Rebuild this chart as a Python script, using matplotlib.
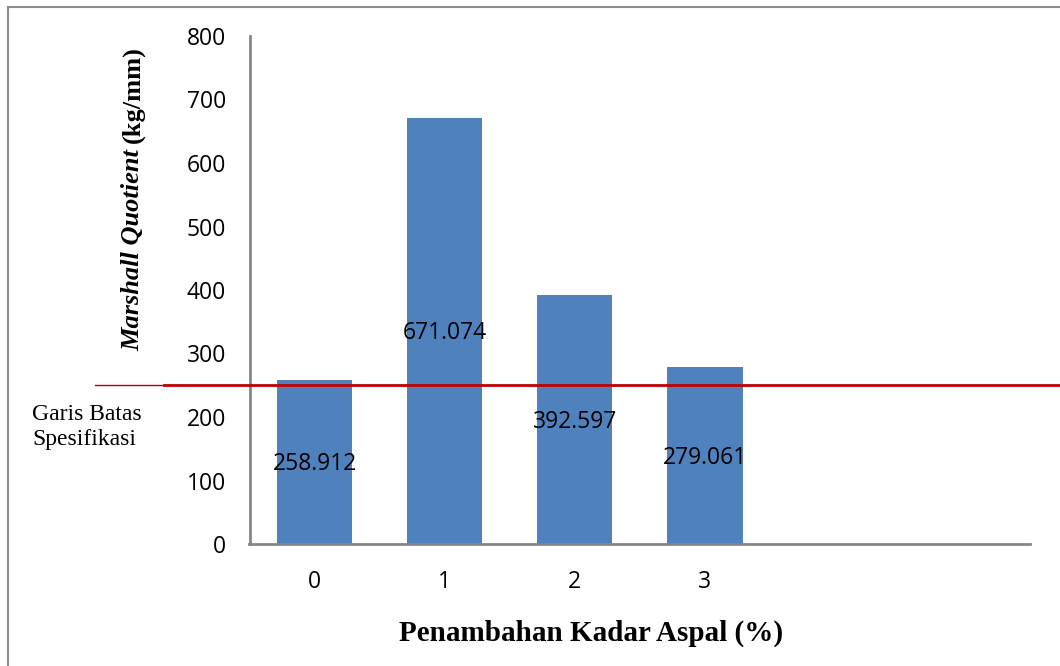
import matplotlib.pyplot as plt
import matplotlib.patches as patches

# data
kadar = [0, 1, 2, 3]
mq = [258.912, 671.074, 392.597, 279.061]
labels = ['258.912', '671.074', '392.597', '279.061']
batas = 250
n_slots = 6  # axis has room for two empty categories

bar_color = '#4F81BD'
axis_color = '#868686'
red = '#C00000'

W, H = 1060, 666
fig = plt.figure(figsize=(W / 100, H / 100), dpi=100)

# outer chart frame (cut off at right and bottom)
fig.patches.append(patches.Rectangle((8 / W, -0.05), 1.1, 1 - 7 / H + 0.05,
                                     transform=fig.transFigure, fill=False,
                                     edgecolor='#8c8c8c', linewidth=1.5))

ax = fig.add_axes([249.5 / W, 1 - 544 / H, (1030 - 249.5) / W, (544 - 36) / H])
ax.bar(kadar, mq, width=0.58, color=bar_color, zorder=2)
ax.set_xlim(-0.5, n_slots - 0.5)
ax.set_ylim(0, 800)
ax.set_yticks(range(0, 801, 100))
ax.set_xticks(kadar)
ax.tick_params(length=0, labelsize=16.5)
ax.tick_params(axis='y', pad=17)
ax.tick_params(axis='x', pad=19)
for lab in ax.get_xticklabels() + ax.get_yticklabels():
    lab.set_family('Open Sans')
for s in ['top', 'right']:
    ax.spines[s].set_visible(False)
for s in ['left', 'bottom']:
    ax.spines[s].set_color(axis_color)
    ax.spines[s].set_linewidth(2)

for x, v, t in zip(kadar, mq, labels):
    ax.text(x, v / 2 - 4, t, ha='center', va='center', fontsize=16.5,
            family='Open Sans', color='black', zorder=3)

# specification limit line
span = 1030 - 249.5
ax.axhline(batas, xmin=(164 - 249.5) / span, xmax=(1060 - 249.5) / span,
           color=red, linewidth=2, clip_on=False, zorder=4)
ax.axhline(batas, xmin=(95 - 249.5) / span, xmax=(164 - 249.5) / span,
           color=red, linewidth=1, clip_on=False, zorder=4)

fig.text(32 / W, 1 - 427 / H, 'Garis Batas\nSpesifikasi', family='Liberation Serif',
         fontsize=17, ha='left', va='center', linespacing=1.3)

fig.text((398 + 785) / 2 / W, 1 - 633 / H, 'Penambahan Kadar Aspal (%)',
         family='Liberation Serif', fontsize=21, fontweight='bold',
         ha='center', va='center')

# y label: italic part + regular part
t1 = fig.text(133 / W, 1 - 351 / H, 'Marshall Quotient', family='Liberation Serif',
              fontsize=19, fontweight='bold', style='italic', rotation=90,
              ha='center', va='bottom')
fig.canvas.draw()
bb = t1.get_window_extent(fig.canvas.get_renderer())
fig.text(133 / W, (bb.y1 + 6) / H, '(kg/mm)', family='Liberation Serif',
         fontsize=19, fontweight='bold', rotation=90, ha='center', va='bottom')

fig.savefig('out.png', dpi=100, facecolor='white')
